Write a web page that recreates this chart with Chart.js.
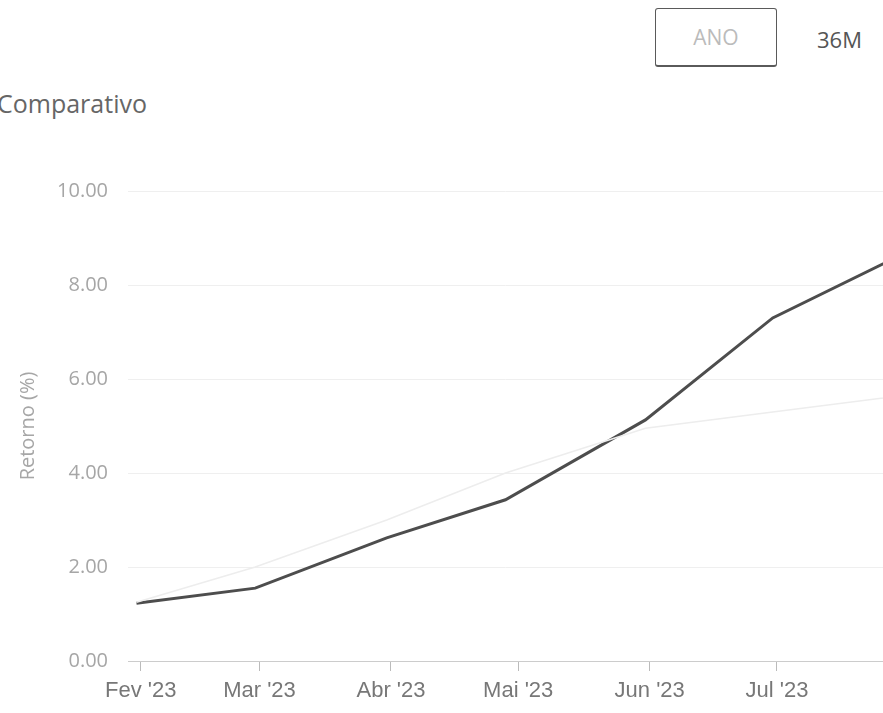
<!DOCTYPE html>
<html>
<head>
<meta charset="utf-8">
<script src="https://cdn.jsdelivr.net/npm/chart.js@4.4.0/dist/chart.umd.min.js"></script>
<style>
  body { margin: 0; background: #fff; overflow: hidden; width: 883px; height: 713px; position: relative; font-family: 'Open Sans', sans-serif; }
  .titulo { position: absolute; left: -3px; top: 86px; font-size: 25px; color: #666; }
  .btn-ano { position: absolute; left: 655px; top: 8px; width: 122px; height: 59px; box-sizing: border-box;
    border: 1px solid #5a5a5a; border-bottom-width: 2px; border-radius: 3px; color: #bbb; font-size: 21px;
    display: flex; align-items: center; justify-content: center; }
  .btn-36 { position: absolute; left: 817px; top: 24px; font-size: 22px; color: #555; }
  .wrap { position: absolute; left: 0; top: 150px; width: 883px; height: 563px; }
</style>
</head>
<body>
<div class="btn-ano">ANO</div>
<div class="btn-36">36M</div>
<div class="titulo">Comparativo</div>
<div class="wrap"><canvas id="chart"></canvas></div>
<script>
// datas de fechamento mensal
const datas = ['2023-01-31', '2023-02-28', '2023-03-31', '2023-04-28', '2023-05-31', '2023-06-30', '2023-07-31'];
const fundo = [1.23, 1.55, 2.62, 3.43, 5.13, 7.30, 8.67];
const benchmark = [1.25, 2.0, 3.0, 4.0, 4.95, 5.3, 5.65];

// ticks do eixo x (inicio de cada mes)
const mesesInicio = ['2023-02-01', '2023-03-01', '2023-04-01', '2023-05-01', '2023-06-01', '2023-07-01'];
const mesesLabels = ["Fev '23", "Mar '23", "Abr '23", "Mai '23", "Jun '23", "Jul '23"];
const yTicks = [0, 2, 4, 6, 8, 10];

const dia = s => (Date.parse(s) - Date.parse('2023-01-01')) / 86400000;
const tickDias = mesesInicio.map(dia);

const ctx = document.getElementById('chart').getContext('2d');
new Chart(ctx, {
  type: 'line',
  data: {
    datasets: [
      { label: 'Benchmark', data: datas.map((d, i) => ({ x: dia(d), y: benchmark[i] })),
        borderColor: '#ededed', borderWidth: 1.5, pointRadius: 0, tension: 0 },
      { label: 'Fundo', data: datas.map((d, i) => ({ x: dia(d), y: fundo[i] })),
        borderColor: '#4d4d4d', borderWidth: 3, pointRadius: 0, tension: 0 }
    ]
  },
  options: {
    responsive: true,
    maintainAspectRatio: false,
    animation: false,
    layout: { padding: { top: 41, right: 0, left: 0, bottom: 0 } },
    plugins: { legend: { display: false }, tooltip: { enabled: false } },
    scales: {
      x: {
        type: 'linear', min: 28, max: 206,
        afterBuildTicks: s => { s.ticks = tickDias.map(v => ({ value: v })); },
        afterFit: s => { s.height = 52; },
        ticks: {
          autoSkip: false, maxRotation: 0, padding: 7, color: '#777',
          font: { family: "'Liberation Sans', Arial, sans-serif", size: 22 },
          callback: v => mesesLabels[tickDias.indexOf(v)]
        },
        grid: { drawOnChartArea: false, drawTicks: true, tickLength: 10, color: '#bbb' },
        border: { display: true, color: '#ccc', width: 1 }
      },
      y: {
        min: 0, max: 10,
        afterBuildTicks: s => { s.ticks = yTicks.map(v => ({ value: v })); },
        afterFit: s => { s.width = 128; },
        ticks: {
          padding: 20, color: '#a6a6a6',
          font: { family: "'Open Sans', sans-serif", size: 20 },
          callback: v => v.toFixed(2)
        },
        grid: { color: '#efefef', drawTicks: false },
        border: { display: false },
        title: { display: true, text: 'Retorno (%)', color: '#a6a6a6',
          font: { family: "'Open Sans', sans-serif", size: 20 }, padding: { top: 16, bottom: 0 } }
      }
    }
  }
});
</script>
</body>
</html>
